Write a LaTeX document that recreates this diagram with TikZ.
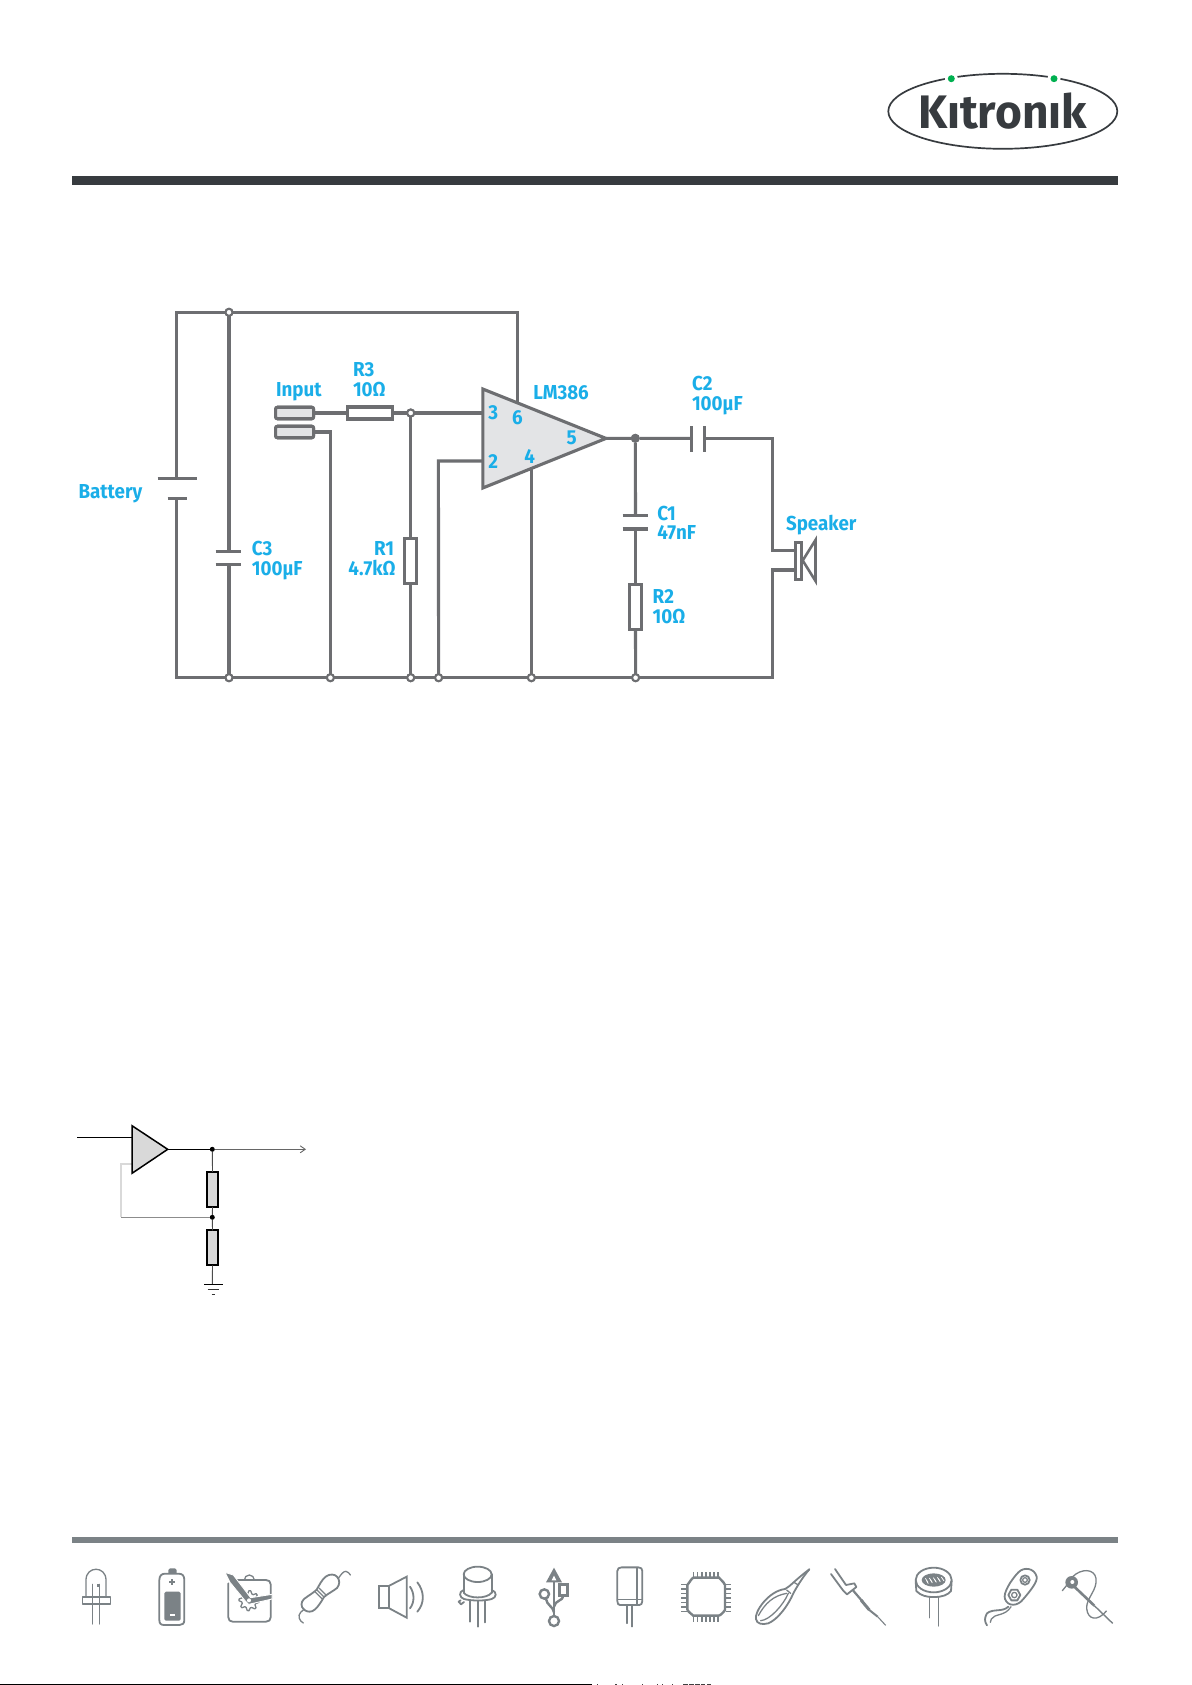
\documentclass[tikz,border=0pt]{standalone}
\usepackage{fontspec}
\setmainfont{Fira Sans}[FakeStretch=0.93]
\newfontfamily\logofont{Fira Sans}[FakeStretch=0.98]
\usetikzlibrary{arrows.meta,calc}
\definecolor{wire}{HTML}{6D6E71}
\definecolor{cyanlab}{HTML}{1AAEE8}
\definecolor{opfill}{HTML}{E3E4E6}
\definecolor{logodark}{HTML}{373B3F}
\definecolor{logogreen}{HTML}{00B050}
\definecolor{icon}{HTML}{7B8286}
\definecolor{lowgray}{HTML}{D9D9D9}
\tikzset{
  wirepath/.style={draw=wire,line width=3.1pt,line join=miter},
  plate/.style={draw=wire,line width=3.1pt},
  resbox/.style={draw=wire,line width=3.1pt,fill=white,rectangle,inner sep=0pt,outer sep=0pt},
  jackbox/.style={draw=wire,line width=3.1pt,fill=opfill,rectangle,rounded corners=2pt,inner sep=0pt,outer sep=0pt,minimum width=38pt,minimum height=11.5pt},
  hollowdot/.style={circle,draw=wire,line width=2pt,fill=white,minimum size=7pt,inner sep=0pt,outer sep=0pt},
  soliddot/.style={circle,fill=wire,minimum size=9pt,inner sep=0pt,outer sep=0pt},
  lab/.style={text=cyanlab,font=\fontsize{20.2pt}{22pt}\selectfont\bfseries,inner sep=0pt,outer sep=0pt,anchor=base west,align=left},
  labr/.style={lab,anchor=base east},
  pinlab/.style={text=cyanlab,font=\fontsize{20.2pt}{22pt}\selectfont\bfseries,inner sep=0pt,outer sep=0pt,anchor=center},
  lowwire/.style={draw=black,line width=1.1pt},
  lowres/.style={draw=black,line width=1.7pt,fill=lowgray,rectangle,inner sep=0pt,outer sep=0pt,minimum width=10.5pt,minimum height=35pt},
  lowdot/.style={circle,fill=black,minimum size=5pt,inner sep=0pt,outer sep=0pt},
  ic/.style={draw=icon,line width=1.3pt,line cap=round,line join=round},
  icthick/.style={ic,line width=1.8pt},
  icf/.style={fill=icon,draw=none},
  icongrid/.style={x=0.33333pt,y=-0.33333pt},
}
\begin{document}
\begin{tikzpicture}[x=1pt,y=-1pt]
\useasboundingbox (0,0) rectangle (1191,1685);
\fill[white] (0,0) rectangle (1191,1685);
%% header
\fill[logodark] (72,175.7) rectangle (1118.3,185.3);
\draw[logodark,line width=1.7pt] (1002.8,111.3) ellipse [x radius=114.5,y radius=37.5];
\fill[white] (951.3,78.7) circle (6.5);
\fill[white] (1054,78.7) circle (6.5);
\node (dotL) [circle,fill=logogreen,minimum size=7pt,inner sep=0pt] at (951.3,78.7) {};
\node (dotR) [circle,fill=logogreen,minimum size=7pt,inner sep=0pt] at (1054,78.7) {};
\node (logo) [text=logodark,inner sep=0pt,anchor=base,font=\logofont\bfseries\fontsize{47pt}{50pt}\selectfont] at (1002.5,129) {K\i tron\i k};
%% circuit coordinates
\coordinate (tl) at (176.8,312.3);
\coordinate (tr) at (517.6,312.3);
\coordinate (bl) at (176.8,677.7);
\coordinate (br) at (772.3,677.7);
\coordinate (batT) at (176.8,478.3);
\coordinate (batB) at (176.8,498.3);
\coordinate (cT) at (229,551.3);
\coordinate (cB) at (229,564.3);
\coordinate (opA) at (482.8,389);
\coordinate (opB) at (482.8,488);
\coordinate (opC) at (606,438.4);
\node (jtop) [hollowdot] at (229,312.3) {};
\node (jb1) [hollowdot] at (229,677.7) {};
\node (jb2) [hollowdot] at (330.4,677.7) {};
\node (jb3) [hollowdot] at (410.7,677.7) {};
\node (jb4) [hollowdot] at (438.6,677.7) {};
\node (jb5) [hollowdot] at (531.4,677.7) {};
\node (jb6) [hollowdot] at (635.6,677.7) {};
\node (jin) [hollowdot] at (410.7,413) {};
\node (jout) [soliddot] at (635.3,438.3) {};
\node (in1) [jackbox] at (294.6,413) {};
\node (in2) [jackbox] at (294.6,432) {};
\node (R3) [resbox,minimum width=45pt,minimum height=12pt] at (370,413) {};
\node (R1) [resbox,minimum width=12pt,minimum height=45pt] at (410.7,560.6) {};
\node (R2) [resbox,minimum width=12pt,minimum height=45pt] at (635.5,607) {};
\coordinate (p3) at (482.8,413);
\coordinate (p2) at (482.8,461);
\coordinate (p6) at (517.6,402.5);
\coordinate (p4) at (531.4,469);
\coordinate (c2L) at (691.3,438.3);
\coordinate (c2R) at (704.3,438.3);
\coordinate (c1T) at (635.5,515.7);
\coordinate (c1B) at (635.5,529);
\coordinate (spkT) at (795,550.7);
\coordinate (spkB) at (795,570);
%% wires
\begin{scope}[wirepath]
\draw (batT) -- (tl) -- (jtop) -- (tr) -- (p6);
\draw (batB) -- (bl) -- (jb1) -- (jb2) -- (jb3) -- (jb4) -- (jb5) -- (jb6) -- (br) -- (772.3,570) -- (spkB);
\draw (jtop) -- (cT);
\draw (cB) -- (jb1);
\draw (in1.east) -- (R3.west);
\draw (R3.east) -- (jin) -- (p3);
\draw (jin) -- (R1.north);
\draw (R1.south) -- (jb3);
\draw (in2.east) -- (330.4,432) -- (jb2);
\draw (p2) -- (438.4,461) -- (jb4);
\draw (p4) -- (jb5);
\draw (opC) -- (jout) -- (c2L);
\draw (c2R) -- (772.3,438.3) -- (772.3,550.7) -- (spkT);
\draw (jout) -- (c1T);
\draw (c1B) -- (R2.north);
\draw (R2.south) -- (jb6);
\end{scope}
%% plates
\draw[plate] (157.5,478.3) -- (196.8,478.3);
\draw[plate] (167.5,498.3) -- (186.8,498.3);
\draw[plate] (215.7,551.3) -- (241.4,551.3);
\draw[plate] (215.7,564.3) -- (241.4,564.3);
\draw[plate] (622.7,515.7) -- (648.3,515.7);
\draw[plate] (622.7,529) -- (648.3,529);
\draw[plate] (691.3,426) -- (691.3,451.7);
\draw[plate] (704.3,426) -- (704.3,451.7);
%% op amp on top of wires
\draw[wirepath,fill=opfill] (opA) -- (opB) -- (opC) -- cycle;
%% redraw nodes over wires
\node [hollowdot] at (jtop) {};
\foreach \j in {jb1,jb2,jb3,jb4,jb5,jb6,jin} {\node [hollowdot] at (\j) {};}
\node [soliddot] at (jout) {};
\node [jackbox] at (in1) {};
\node [jackbox] at (in2) {};
\node [resbox,minimum width=45pt,minimum height=12pt] at (R3) {};
\node [resbox,minimum width=12pt,minimum height=45pt] at (R1) {};
\node [resbox,minimum width=12pt,minimum height=45pt] at (R2) {};
%% speaker
\node (spk) [resbox,minimum width=6pt,minimum height=37.5pt] at (798.8,560.8) {};
\draw[wire,line width=2.6pt,line join=miter] (815.5,540) -- (802.7,560.5) -- (815.5,581) -- cycle;
%% labels
\node[lab] at (78.6,498) {Battery};
\node[lab] at (251.8,555) {C3};
\node[lab] at (251.8,575) {100µF};
\node[lab] at (276,396) {Input};
\node[lab] at (353,376) {R3};
\node[lab] at (353,396) {10Ω};
\node[labr] at (394,555) {R1};
\node[labr] at (395.7,575) {4.7kΩ};
\node[lab] at (533.3,399) {LM386};
\node[lab] at (692,390.7) {C2};
\node[lab] at (692,410.7) {100µF};
\node[lab] at (657.3,520) {C1};
\node[lab] at (657.3,539.3) {47nF};
\node[lab] at (652.7,603.3) {R2};
\node[lab] at (652.7,623.3) {10Ω};
\node[lab] at (786,530) {Speaker};
\node[pinlab] at (493.3,412.7) {3};
\node[pinlab] at (517.3,417.3) {6};
\node[pinlab] at (571.7,438.3) {5};
\node[pinlab] at (493.3,461.7) {2};
\node[pinlab] at (529.7,456.7) {4};
%% lower diagram
\coordinate (lin) at (77.3,1137.3);
\coordinate (lip) at (132,1137.3);
\coordinate (la) at (132,1125.7);
\coordinate (lb) at (132,1173.3);
\coordinate (lc) at (167.7,1149.3);
\coordinate (lout) at (306,1149.3);
\coordinate (lfb) at (132,1164);
\coordinate (lgnd) at (212.3,1284);
\node (ld1) [lowdot] at (212.3,1149.3) {};
\node (ld2) [lowdot] at (212.3,1217.3) {};
\node (lr1) [lowres] at (212.5,1189.3) {};
\node (lr2) [lowres] at (212.5,1247.8) {};
\draw[lowwire] (lin) -- (lip);
\draw[lowgray,line width=1.2pt] (lfb) -- (121,1164) -- (121,1217.3);
\draw[black!45,line width=1pt] (121,1217.3) -- (ld2);
\draw[lowwire] (lc) -- (ld1);
\draw[black!60,line width=0.9pt,-{Straight Barb[length=5pt,width=7pt]}] (ld1) -- (lout);
\draw[black!70,line width=0.9pt] (ld1) -- (lr1.north);
\draw[black!70,line width=0.9pt] (lr1.south) -- (ld2);
\draw[black!70,line width=0.9pt] (ld2) -- (lr2.north);
\draw[black!70,line width=0.9pt] (lr2.south) -- (lgnd);
\draw[black,line width=1pt] (204,1284) -- (223,1284);
\draw[black!80,line width=1pt] (207.7,1289) -- (219,1289);
\draw[black!80,line width=1pt] (211.7,1294) -- (215,1294);
\draw[draw=black,line width=1.5pt,fill=lowgray,line join=miter] (la) -- (lb) -- (lc) -- cycle;
%% footer
\fill[icon] (72,1537.3) rectangle (1118.3,1543);
\draw[black,line width=1.4pt] (0,1684.3) -- (592,1684.3);
\foreach \sx/\sw in {596.5/1,615/1.5,621.5/1.5,641.5/1.5,656.5/1,661.5/1,671.5/1,683/5,689/5,695/5,701/4,707/4} {\fill[black!75] (\sx,1683.6) rectangle ++(\sw,1.4);}
%% icons, left group
\begin{scope}[shift={(60,1525)},icongrid]
% LED
\draw[ic] (78,216) -- (78,165) .. controls (78,122) and (138,122) .. (138,165) -- (138,216);
\draw[ic,fill=white] (68,216) rectangle (152,237);
\draw[ic] (97,178) -- (97,297);
\draw[ic] (119,178) -- (119,297);
\fill[icon] (110,177) rectangle (119,186);
% battery
\draw[icthick] (298,165) .. controls (298,152) and (305,146) .. (315,146) -- (356,146) .. controls (367,146) and (373,152) .. (373,165) -- (373,285) .. controls (373,296) and (367,300) .. (358,300) -- (313,300) .. controls (303,300) and (298,296) .. (298,285) -- cycle;
\fill[icon] (325,146) -- (325,135) -- (330,130) -- (345,130) -- (350,135) -- (350,146) -- cycle;
\fill[icon,rounded corners=1.5pt] (313,200) rectangle (362,287);
\fill[white] (330,267) rectangle (345,273);
\fill[icon] (334,163) rectangle (340,181);
\fill[icon] (328,169) rectangle (346,175);
% clock
\draw[icthick] (525,165) -- (618,165) .. controls (627,165) and (632,170) .. (632,178) -- (632,277) .. controls (632,285) and (627,290) .. (618,290) -- (518,290) .. controls (510,290) and (505,285) .. (505,277) -- (505,175);
\draw[ic] (553,165) arc[start angle=180,end angle=360,radius=15];
\draw[ic] ($(567,227)+(0:30)$)
  \foreach \a in {45,90,...,360} { -- ($(567,227)+(\a-45+10:30)$) -- ($(567,227)+(\a-22:22)$) -- ($(567,227)+(\a-10:22)$) -- ($(567,227)+(\a:30)$) };
\filldraw[fill=icon,draw=white,line width=0.9pt,line join=round] (495,142) -- (520,150) -- (572,218) -- (636,208) -- (636,222) -- (566,238) -- (556,228) -- (510,172) -- cycle;
\fill[white] (567,226) circle (6);
% resistor
\draw[ic] (730,294) .. controls (718,288) and (712,272) .. (722,262) .. controls (725,258) and (728,256) .. (733,252);
\draw[ic] (835,160) .. controls (842,150) and (850,138) .. (858,139) .. controls (865,140) and (868,146) .. (871,150);
\draw[icthick] (732,254) .. controls (722,244) and (722,232) .. (732,222) .. controls (745,212) and (758,205) .. (770,194) .. controls (778,180) and (785,165) .. (797,155) .. controls (810,145) and (825,148) .. (831,155) .. controls (840,165) and (840,178) .. (831,189) .. controls (820,198) and (805,205) .. (792,216) .. controls (785,228) and (775,245) .. (764,254) .. controls (755,262) and (742,262) .. (732,254) -- cycle;
\draw[ic] (765,200) -- (786,221);
\draw[ic] (771,195) -- (791,215);
\draw[ic] (777,189) -- (797,209);
% speaker
\draw[icthick,line join=miter] (958,182) rectangle (988,250);
\draw[icthick,line join=miter] (988,182) -- (1040,155) -- (1040,278) -- (988,250);
\draw[icthick] (1050,185) .. controls (1064,205) and (1064,232) .. (1050,250);
\draw[icthick] (1072,172) .. controls (1094,200) and (1094,235) .. (1072,260);
\end{scope}
%% icons, middle group
\begin{scope}[shift={(440,1525)},icongrid]
% transistor
\draw[icthick] (113,148) ellipse [x radius=42,y radius=23];
\draw[icthick] (71,148) -- (71,203);
\draw[icthick] (155,148) -- (155,203);
\draw[icthick] (71,203) .. controls (85,222) and (141,222) .. (155,203);
\draw[icthick] (71,195) .. controls (55,200) and (58,218) .. (72,222) .. controls (95,228) and (135,228) .. (155,222) .. controls (170,218) and (172,200) .. (155,195);
\draw[icthick] (62,226) -- (56,230) -- (63,238) -- (72,231);
\draw[icthick] (91,226) -- (91,290);
\draw[icthick] (113,228) -- (113,305);
\draw[icthick] (136,226) -- (136,292);
% usb
\fill[icon] (342,128) -- (318,172) -- (366,172) -- cycle;
\fill[white] (342,152) -- (335,166) -- (349,166) -- cycle;
\draw[icon,line width=2.8pt] (342,170) -- (342,272);
\draw[icon,line width=2.4pt] (342,288) circle (15);
\draw[icon,line width=2.4pt] (313,207) circle (14);
\draw[icon,line width=2.4pt] (318,222) .. controls (320,240) and (340,245) .. (342,262);
\draw[icon,line width=2.4pt] (358,178) rectangle (383,212);
\draw[icon,line width=2.4pt] (370,212) .. controls (370,228) and (345,225) .. (342,245);
% capacitor
\draw[icthick] (545,127) -- (595,127) .. controls (603,127) and (607,131) .. (607,138) -- (607,228) .. controls (607,236) and (603,240) .. (598,240) -- (540,240) .. controls (535,240) and (532,236) .. (532,228) -- (532,138) .. controls (532,131) and (537,127) .. (545,127) -- cycle;
\draw[icon,line width=1.8pt] (590,130) -- (590,238);
\draw[icon,line width=1pt] (532,224) -- (607,224);
\draw[ic] (561,242) -- (561,295);
\draw[ic] (576,242) -- (576,305);
% chip
\draw[icon,line width=2.4pt] (760,158) -- (837,158) .. controls (848,170) and (855,175) .. (855,180) -- (855,255) .. controls (848,265) and (840,272) .. (835,272) -- (760,272) .. controls (752,265) and (742,258) .. (742,253) -- (742,180) .. controls (750,170) and (755,160) .. (760,158) -- cycle;
\foreach \i in {0,...,6} {
  \fill[icon] (758+\i*12.4,140) rectangle ++(5,15);
  \fill[icon] (758+\i*12.4,275) rectangle ++(5,17);
  \fill[icon] (724,176+\i*13.5) rectangle ++(16,5);
  \fill[icon] (857,176+\i*13.5) rectangle ++(15,5);
}
% pliers
\draw[icthick] (948,282) .. controls (942,262) and (985,198) .. (1035,192) .. controls (1050,185) and (1065,165) .. (1108,133);
\draw[icthick] (948,282) .. controls (950,296) and (965,300) .. (985,295) .. controls (1015,282) and (1045,240) .. (1060,205) .. controls (1068,190) and (1085,160) .. (1108,133);
\draw[ic] (955,272) .. controls (975,235) and (1000,212) .. (1040,205);
\draw[ic] (962,287) .. controls (990,285) and (1030,240) .. (1045,205);
\draw[ic] (1040,195) -- (1052,205);
\draw[ic] (1062,172) -- (1075,180);
\end{scope}
%% icons, right group
\begin{scope}[shift={(811,1525)},icongrid]
% soldering iron
\draw[icthick] (72,132) -- (105,180) -- (130,175) -- (136,186) -- (108,208) -- (96,196) -- (60,147);
\draw[icon,line width=2.2pt] (125,195) -- (155,230);
\draw[icon,line width=3pt] (150,225) -- (175,255);
\draw[icon,line width=2pt] (175,255) -- (200,275);
\draw[icon,line width=1.1pt] (200,275) -- (224,301);
% LDR
\draw[icthick] (368,165) ellipse [x radius=54,y radius=37];
\draw[icthick] (314,168) -- (316,198) .. controls (330,212) and (345,216) .. (368,216) .. controls (395,216) and (410,210) .. (420,198) -- (422,168);
\fill[icon] (368,165) ellipse [x radius=36,y radius=20];
\foreach \i in {0,1,2,3,4} {\draw[white,line width=0.7pt] (343+\i*12,160+\i*-1) -- ++(8,12);}
\foreach \i in {0,1,2,3} {\draw[white,line width=0.7pt] (352+\i*12,176+\i*-2) -- ++(-6,-10);}
\draw[ic] (355,216) -- (355,278);
\draw[ic] (382,216) -- (382,303);
% battery clip
\draw[icthick] (622,142) .. controls (638,125) and (670,128) .. (677,155) .. controls (680,170) and (660,195) .. (637,222) .. controls (620,245) and (590,245) .. (582,222) .. controls (575,205) and (600,165) .. (622,142) -- cycle;
\draw[icthick] (642,165) circle (14);
\draw[ic] (642,165) circle (7);
\draw[icthick] (592,210) -- (601,194) -- (619,194) -- (628,210) -- (619,226) -- (601,226) -- cycle;
\draw[ic] (610,210) circle (8);
\draw[icthick] (592,245) .. controls (575,262) and (545,250) .. (528,265) .. controls (520,278) and (520,290) .. (528,301);
\draw[ic] (600,245) .. controls (582,275) and (550,265) .. (541,282) -- (538,292);
% needle
\draw[ic] (754,197) -- (772,175);
\fill[icon] (782,172) circle (19);
\fill[white] (784,171) circle (6);
\draw[icon,line width=2.6pt] (790,185) -- (850,242);
\draw[icon,line width=1.4pt] (850,242) -- (905,295);
\draw[ic] (785,155) .. controls (810,130) and (850,130) .. (855,160) .. controls (860,195) and (825,220) .. (827,250) .. controls (830,285) and (860,290) .. (886,258);
\end{scope}
\end{tikzpicture}
\end{document}
